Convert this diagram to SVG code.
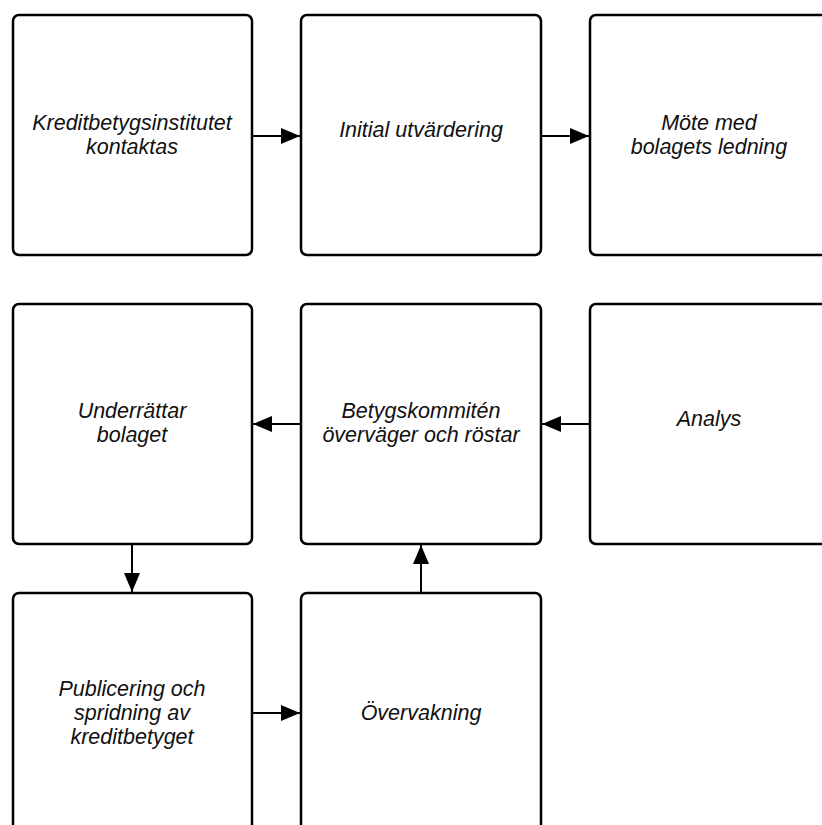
<svg xmlns="http://www.w3.org/2000/svg" width="822" height="825" viewBox="0 0 822 825">
<defs>
<style>
.box{fill:#fff;stroke:#000;stroke-width:2.5}
.lbl{font-family:"Liberation Sans",Arial,sans-serif;font-style:italic;font-size:21.5px;fill:#111;text-anchor:middle}
.con{stroke:#000;stroke-width:2;fill:none}
</style>
<marker id="ah" viewBox="0 0 19 16" refX="19" refY="8" markerWidth="19" markerHeight="16" markerUnits="userSpaceOnUse" orient="auto">
<path d="M0,0 L19,8 L0,16 z" fill="#000"/>
</marker>
</defs>
<rect width="822" height="825" fill="#fff"/>
<g id="n1"><rect class="box" x="13" y="15" width="239" height="240" rx="6"/>
<text class="lbl" x="132" y="130">Kreditbetygsinstitutet</text><text class="lbl" x="132" y="154">kontaktas</text></g>
<g id="n2"><rect class="box" x="301" y="15" width="240" height="240" rx="6"/>
<text class="lbl" x="421" y="137">Initial utvärdering</text></g>
<g id="n3"><rect class="box" x="590" y="15" width="240" height="240" rx="6"/>
<text class="lbl" x="709" y="130">Möte med</text><text class="lbl" x="709" y="154">bolagets ledning</text></g>
<g id="n4"><rect class="box" x="13" y="304" width="239" height="240" rx="6"/>
<text class="lbl" x="132" y="418">Underrättar</text><text class="lbl" x="132" y="442">bolaget</text></g>
<g id="n5"><rect class="box" x="301" y="304" width="240" height="240" rx="6"/>
<text class="lbl" x="421" y="418">Betygskommitén</text><text class="lbl" x="421" y="442">överväger och röstar</text></g>
<g id="n6"><rect class="box" x="590" y="304" width="240" height="240" rx="6"/>
<text class="lbl" x="709" y="426">Analys</text></g>
<g id="n7"><rect class="box" x="13" y="593" width="239" height="240" rx="6"/>
<text class="lbl" x="132" y="696">Publicering och</text><text class="lbl" x="132" y="720">spridning av</text><text class="lbl" x="132" y="744">kreditbetyget</text></g>
<g id="n8"><rect class="box" x="301" y="593" width="240" height="240" rx="6"/>
<text class="lbl" x="421" y="720">Övervakning</text></g>
<g id="connectors">
<line class="con" x1="252" y1="136" x2="300" y2="136" marker-end="url(#ah)"/>
<line class="con" x1="541" y1="136" x2="589" y2="136" marker-end="url(#ah)"/>
<line class="con" x1="590" y1="424" x2="542" y2="424" marker-end="url(#ah)"/>
<line class="con" x1="301" y1="424" x2="253" y2="424" marker-end="url(#ah)"/>
<line class="con" x1="132" y1="544" x2="132" y2="592" marker-end="url(#ah)"/>
<line class="con" x1="252" y1="713" x2="300" y2="713" marker-end="url(#ah)"/>
<line class="con" x1="421" y1="593" x2="421" y2="545" marker-end="url(#ah)"/>
</g>
</svg>
